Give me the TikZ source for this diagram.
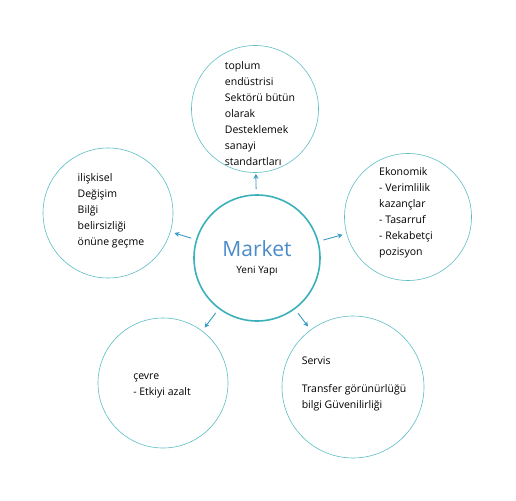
\documentclass[tikz,border=0pt]{standalone}
\usepackage{fontspec}
\setmainfont{Open Sans}
\usepackage{tikz}
\usetikzlibrary{positioning,arrows.meta}
\definecolor{ringclr}{RGB}{92,190,196}
\definecolor{coreclr}{RGB}{58,176,186}
\definecolor{arrclr}{RGB}{58,156,198}
\definecolor{mktclr}{RGB}{74,140,200}
\tikzset{
  bubble/.style={circle,draw=ringclr,line width=0.6pt,inner sep=0pt},
  core/.style={circle,draw=coreclr,line width=1.6pt,inner sep=0pt,
               minimum size=126pt},
  txt/.style={align=left,inner sep=0pt,font=\fontsize{10.5}{16}\selectfont},
  link/.style={-{Stealth[length=5pt,width=5pt]},draw=arrclr,line width=0.9pt,
               shorten <=5pt,shorten >=4pt},
}
\begin{document}
\begin{tikzpicture}[x=1pt,y=-1pt]
\useasboundingbox[fill=white] (0,0) rectangle (516,500);
% circles
\node[core] (mkt) at (257,258) {};
\node[bubble,minimum size=127pt] (top) at (255,109) {};
\node[bubble,minimum size=127pt] (eko) at (408,217) {};
\node[bubble,minimum size=130pt] (ili) at (108,213) {};
\node[bubble,minimum size=130pt] (cev) at (163,383) {};
\node[bubble,minimum size=142pt] (ser) at (353,387) {};
% texts
\node[font=\fontsize{21}{24}\selectfont,text=mktclr,inner sep=0pt] (mkt-t) at (257,249) {Market};
\node[font=\fontsize{10}{12}\selectfont,inner sep=0pt] (yeni) at (257,271) {Yeni Yapı};
\node[txt] (top-t) at (260,114) {toplum\\endüstrisi\\Sektörü bütün\\olarak\\Desteklemek\\sanayi\\standartları};
\node[txt] (eko-t) at (406,213) {Ekonomik\\- Verimlilik\\kazançlar\\- Tasarruf\\- Rekabetçi\\pozisyon};
\node[txt] (ili-t) at (111,211) {ilişkisel\\Değişim\\Bilği\\belirsizliği\\önüne geçme};
\node[txt] (cev-t) at (162,386) {çevre\\- Etkiyi azalt};
\node[txt] (ser-t) at (354,384) {Servis\\[12pt]Transfer görünürlüğü\\bilgi Güvenilirliği};
% arrows
\draw[link,shorten >=1pt] (mkt) -- (top);
\draw[link] (mkt) -- (eko);
\draw[link] (mkt) -- (ili);
\draw[link] (mkt) -- (cev);
\draw[link] (mkt) -- (ser);
\end{tikzpicture}
\end{document}
